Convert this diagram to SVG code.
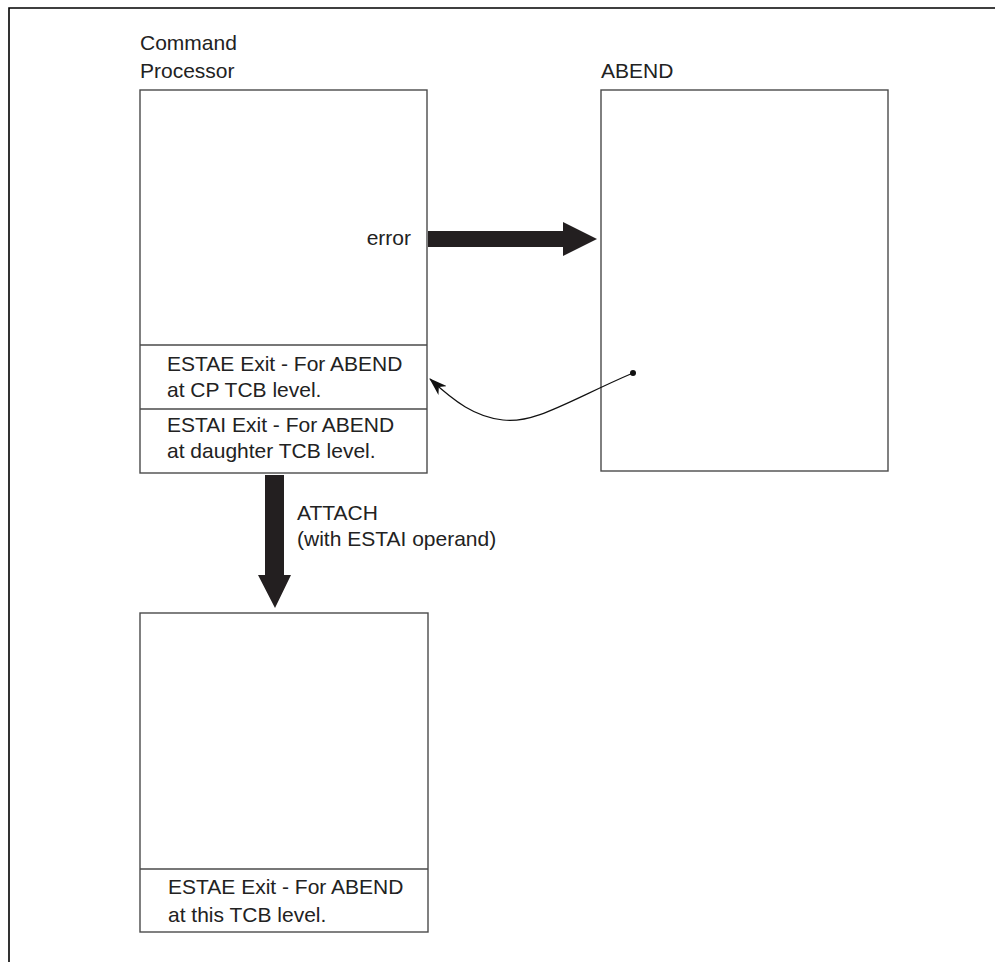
<svg xmlns="http://www.w3.org/2000/svg" width="995" height="962" viewBox="0 0 995 962">
<style>
.box{fill:#fff;stroke:#4a4a4a;stroke-width:1.4}
.div{stroke:#4a4a4a;stroke-width:1.4}
.t{font-family:"Liberation Sans",Arial,sans-serif;font-size:21px;fill:#222}
.big{fill:#231f20}
</style>
<defs>
<marker id="ah" markerWidth="18" markerHeight="12" refX="17" refY="6" orient="auto" markerUnits="userSpaceOnUse">
<path d="M0,0 L18,6 L0,12 L5,6 Z" fill="#111"/>
</marker>
</defs>
<rect width="995" height="962" fill="#fff"/>
<path d="M9,962 V8 H995" fill="none" stroke="#000" stroke-width="1.6"/>
<g id="cp">
<text class="t" x="140" y="50">Command</text>
<text class="t" x="140" y="78">Processor</text>
<rect class="box" x="140" y="90" width="287" height="383"/>
<line class="div" x1="140" y1="345" x2="427" y2="345"/>
<line class="div" x1="140" y1="409" x2="427" y2="409"/>
<text class="t" x="411" y="245" text-anchor="end">error</text>
<text class="t" x="167" y="371">ESTAE Exit - For ABEND</text>
<text class="t" x="167" y="397">at CP TCB level.</text>
<text class="t" x="167" y="432">ESTAI Exit - For ABEND</text>
<text class="t" x="167" y="458">at daughter TCB level.</text>
</g>
<g id="abend">
<text class="t" x="601" y="78">ABEND</text>
<rect class="box" x="601" y="90" width="287" height="381"/>
</g>
<g id="daughter">
<rect class="box" x="140" y="613" width="288" height="319"/>
<line class="div" x1="140" y1="869" x2="428" y2="869"/>
<text class="t" x="168" y="894">ESTAE Exit - For ABEND</text>
<text class="t" x="168" y="922">at this TCB level.</text>
</g>
<g id="connectors">
<polygon class="big" points="428,231 563,231 563,222 597,239 563,256 563,247 428,247"/>
<polygon class="big" points="265,475 284,475 284,575 291,575 275,608 258,575 265,575"/>
<text class="t" x="297" y="520">ATTACH</text>
<text class="t" x="297" y="546">(with ESTAI operand)</text>
<circle cx="633" cy="373" r="3" fill="#111"/>
<path d="M633,373 C570,400 535,424 503,420 C475,417 455,402 430,379" fill="none" stroke="#111" stroke-width="1.2" marker-end="url(#ah)"/>
</g>
</svg>
